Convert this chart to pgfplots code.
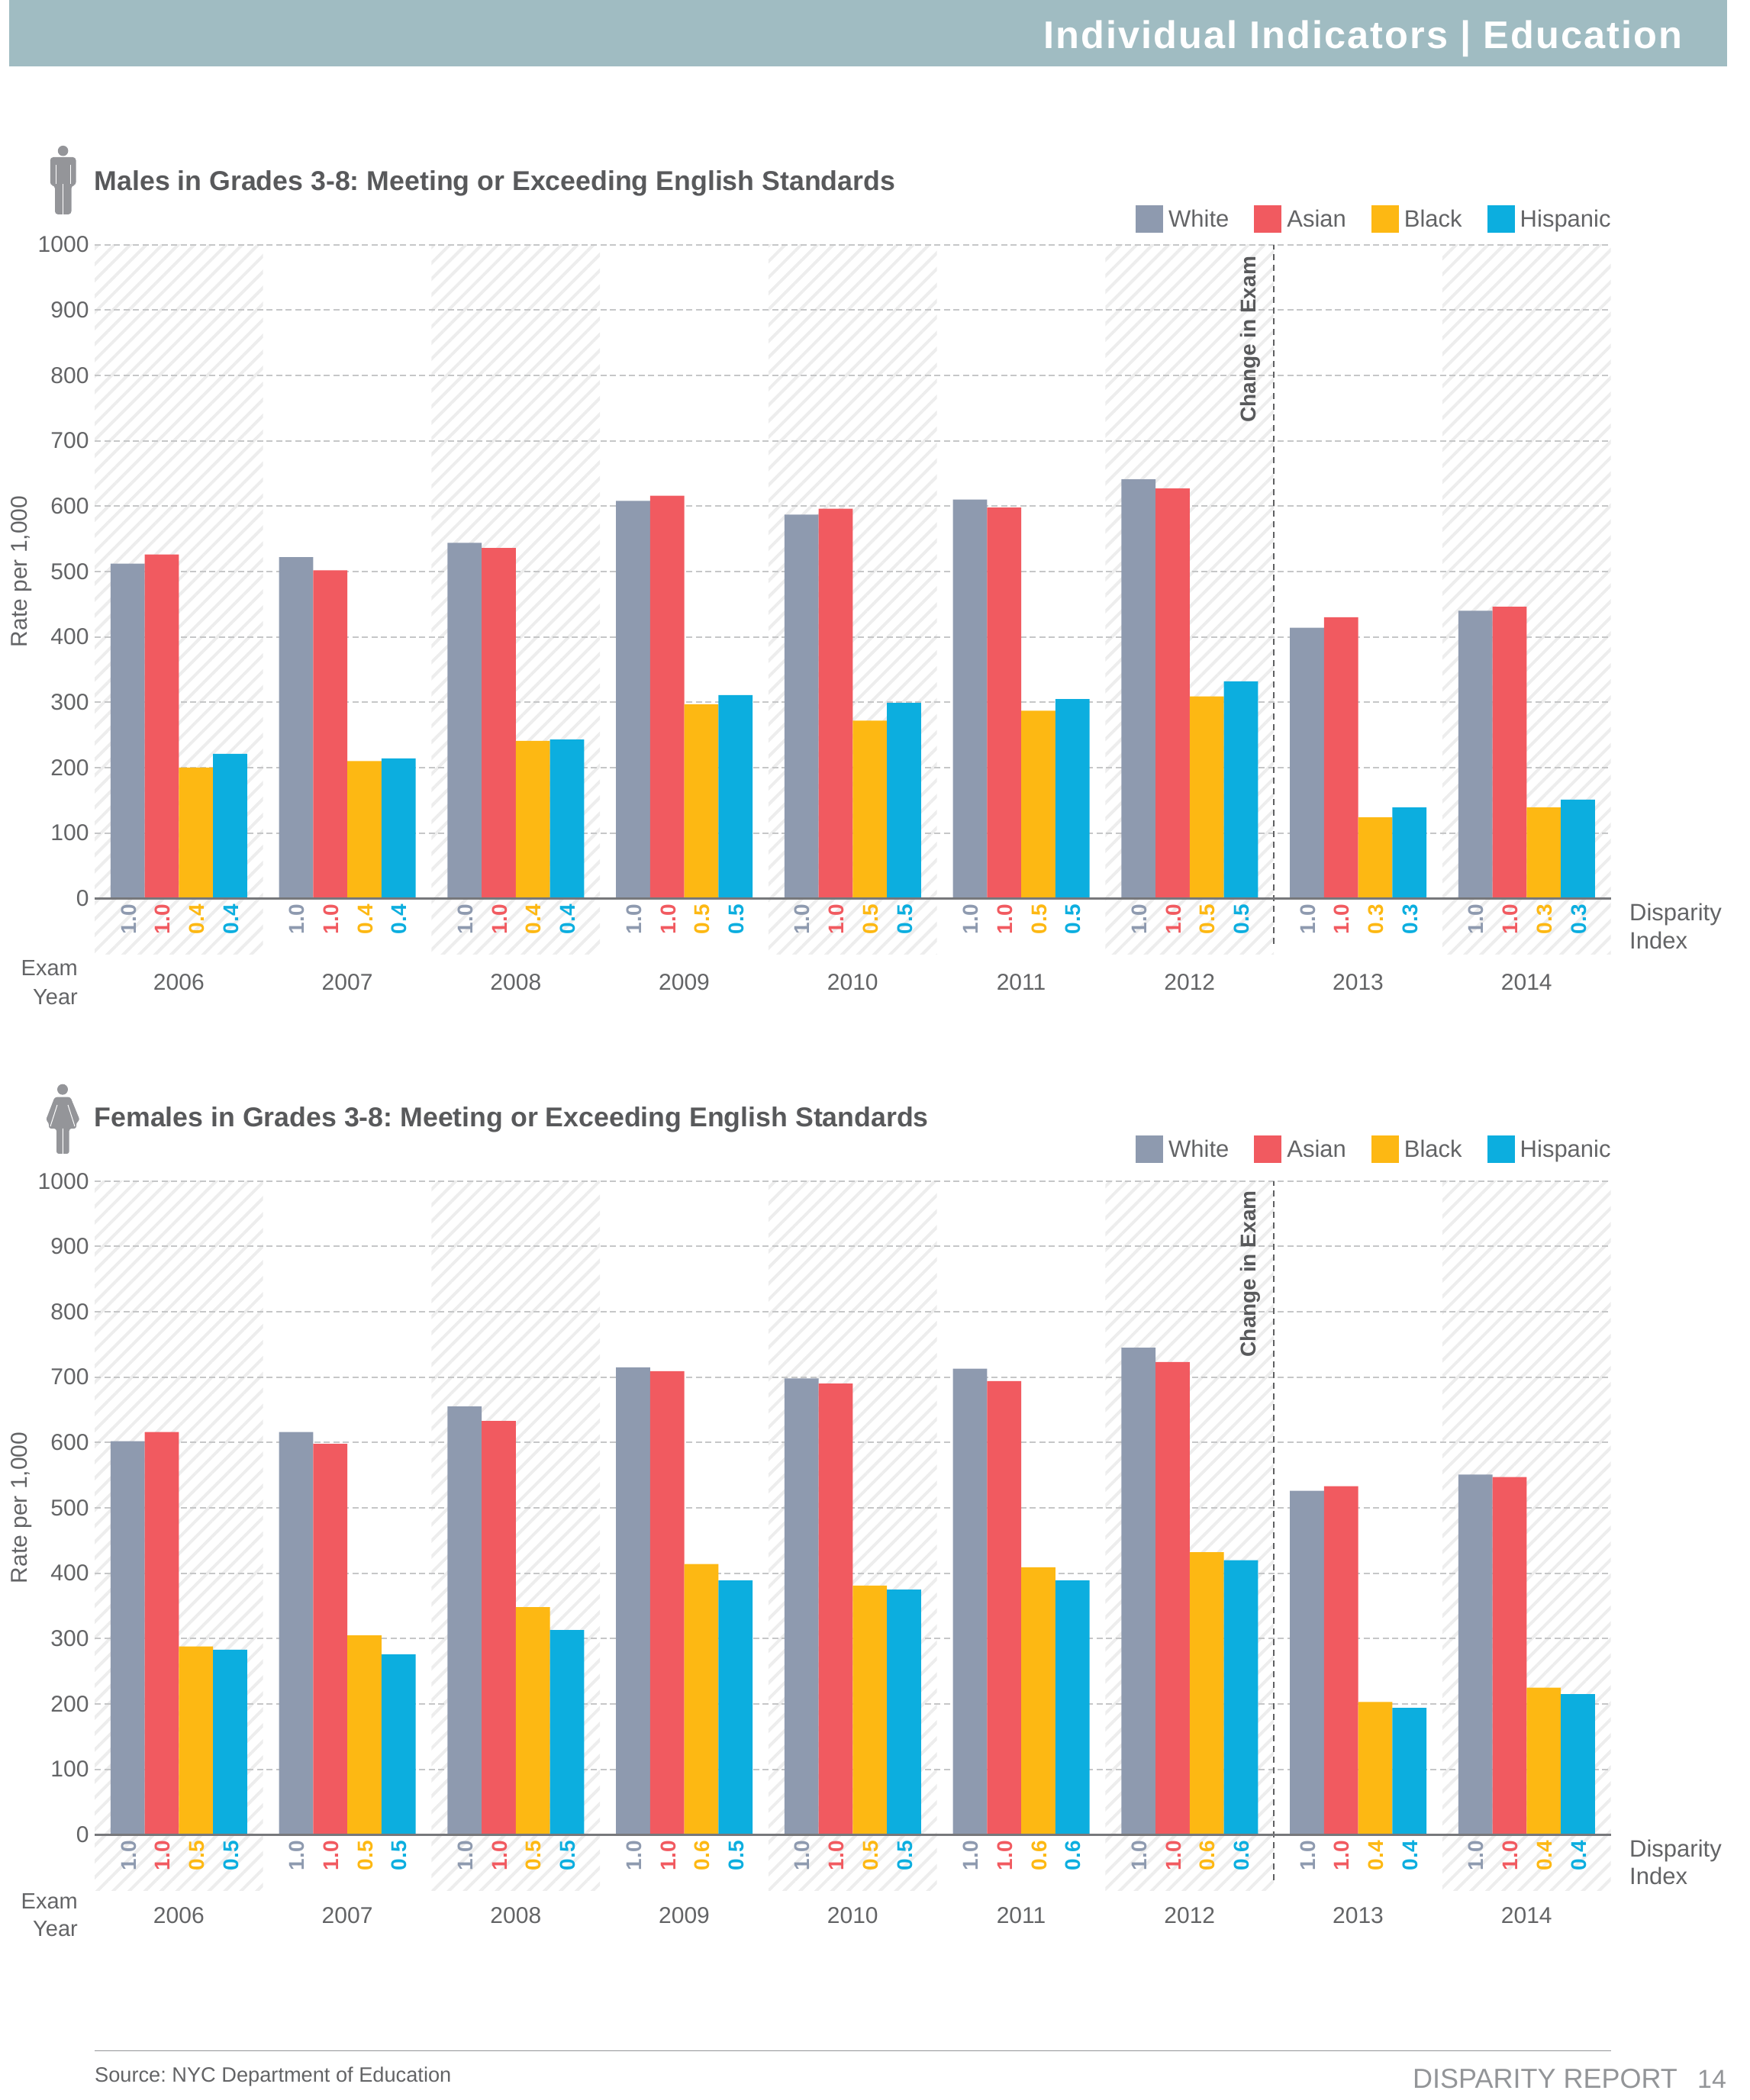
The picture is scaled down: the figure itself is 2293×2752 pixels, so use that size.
\documentclass[border=0pt]{standalone}
\usepackage{fontspec}
\setmainfont{Liberation Sans}
\newfontfamily\headfont[LetterSpace=4]{Liberation Sans}
\usepackage{pgfplots}
\usepackage{pgfplotstable}
\pgfplotsset{compat=1.18}
\usetikzlibrary{patterns.meta}
\frenchspacing

\definecolor{cWhite}{HTML}{8E9AAF}
\definecolor{cAsian}{HTML}{F15A60}
\definecolor{cBlack}{HTML}{FDB813}
\definecolor{cHisp}{HTML}{0CAEDF}
\definecolor{headbar}{HTML}{A0BCC2}
\definecolor{stripe}{HTML}{EDEDED}
\definecolor{gridc}{HTML}{C6C7C8}
\definecolor{axisc}{HTML}{77787B}
\definecolor{txt}{HTML}{636466}
\definecolor{titlec}{HTML}{58595B}
\definecolor{icon}{HTML}{949599}
\definecolor{foot}{HTML}{939598}

\newcommand{\fs}[1]{\fontsize{#1}{#1}\selectfont}

\pgfplotstableread{
x W A B H dW dA dB dH
0 512 526 200 221 1.0 1.0 0.4 0.4
1 522 502 210 214 1.0 1.0 0.4 0.4
2 544 536 241 243 1.0 1.0 0.4 0.4
3 608 616 297 311 1.0 1.0 0.5 0.5
4 587 596 272 299 1.0 1.0 0.5 0.5
5 610 598 287 305 1.0 1.0 0.5 0.5
6 641 627 309 332 1.0 1.0 0.5 0.5
7 414 430 124 139 1.0 1.0 0.3 0.3
8 440 446 139 151 1.0 1.0 0.3 0.3
}\tblmale

\pgfplotstableread{
x W A B H dW dA dB dH
0 602 616 288 283 1.0 1.0 0.5 0.5
1 616 598 305 276 1.0 1.0 0.5 0.5
2 655 633 348 313 1.0 1.0 0.5 0.5
3 715 709 414 389 1.0 1.0 0.6 0.5
4 698 690 381 375 1.0 1.0 0.5 0.5
5 713 694 409 389 1.0 1.0 0.6 0.6
6 745 723 432 420 1.0 1.0 0.6 0.6
7 526 533 203 194 1.0 1.0 0.4 0.4
8 551 547 225 215 1.0 1.0 0.4 0.4
}\tblfemale

% one hatched column behind a year
\newcommand{\band}[1]{%
  \addplot[on layer=axis background,forget plot,draw=none,
    pattern={Lines[angle=45,distance=14.8pt,line width=4pt]},pattern color=stripe]
    coordinates {(#1-0.5,-85) (#1+0.5,-85) (#1+0.5,1000) (#1-0.5,1000)} -- cycle;
}
% bars of one group
\newcommand{\bars}[4]{%
  \addplot[ybar,bar width=44.75pt,bar shift=#2pt,fill=#3,draw=none]
    table[x=x,y=#1]{#4};
}
% rotated disparity index under the bars
\newcommand{\dispar}[4]{%
  \addplot[forget plot,draw=none,mark=none,only marks,
    nodes near coords,point meta=explicit symbolic,
    every node near coord/.style={rotate=90,anchor=center,inner sep=0pt,text=#3,
      font=\fs{28}\bfseries}]
    table[x expr=\thisrow{x}+#2,y expr=-32,meta=#1]{#4};
}

\pgfplotsset{
  chart/.style={
    scale only axis,width=1986.7pt,height=856.6pt,
    xmin=-0.5,xmax=8.5,ymin=0,ymax=1000,
    clip=false,set layers,
    axis x line=bottom,axis y line=left,axis line style={draw=none,-},
    major tick length=0pt,
    xtick={0,...,8},xticklabels={2006,2007,2008,2009,2010,2011,2012,2013,2014},
    ytick={0,100,...,1000},
    ymajorgrids,
    major grid style={gridc,line width=2pt,dash pattern=on 8pt off 4.5pt},
    /pgf/number format/assume math mode=true,
    /pgf/number format/1000 sep={},
    y tick label style={font=\fs{30},text=txt,xshift=-4pt},
    every axis y label/.style={at={(axis description cs:-0.048,0.5)},rotate=90,anchor=center,
      font=\fs{30},text=txt},
    ylabel={Rate per 1,000},
    legend cell align=left,
    legend image code/.code={\fill[##1] (0pt,-18pt) rectangle (36pt,18pt);},
    legend style={at={(axis description cs:1,1)},anchor=south east,xshift=2pt,
      draw=none,fill=none,inner sep=0pt,outer sep=0pt,font=\fs{31},text=txt,
      legend columns=4,
      /tikz/every odd column/.append style={column sep=5pt},
      /tikz/every even column/.append style={column sep=31pt}},
  },
}

% table, axis bottom, legend lift, height of the exam note, year label shift
\newcommand{\chart}[5]{%
  \begin{axis}[chart,at={(124pt,#2pt)},anchor=south west,
      x tick label style={font=\fs{30},text=txt,yshift=#5pt},
      legend style={yshift=#3pt}]
    \band{0}\band{2}\band{4}\band{6}\band{8}
    \bars{W}{-67.125}{cWhite}{#1}
    \bars{A}{-22.375}{cAsian}{#1}
    \bars{B}{22.375}{cBlack}{#1}
    \bars{H}{67.125}{cHisp}{#1}
    \legend{White,Asian,Black,Hispanic}
    \addplot[on layer=axis foreground,forget plot,draw=axisc,line width=3pt]
      coordinates {(-0.5,0) (8.5,0)};
    \addplot[forget plot,draw=axisc!80!black,line width=1.5pt,dash pattern=on 8pt off 6pt]
      coordinates {(6.5,-70) (6.5,1000)};
    \dispar{dW}{-0.299}{cWhite}{#1}
    \dispar{dA}{-0.096}{cAsian}{#1}
    \dispar{dB}{0.106}{cBlack}{#1}
    \dispar{dH}{0.309}{cHisp}{#1}
    \node[rotate=90,anchor=center,inner sep=0pt,font=\fs{28}\bfseries,text=titlec]
      at (axis cs:6.36,#4) {Change in Exam};
  \end{axis}
}

\begin{document}
\begin{tikzpicture}[x=1pt,y=1pt]
  \path (0,0) rectangle (2293,2752);
  \fill[headbar] (12,2752) rectangle (2262.6,2665);
  \node[anchor=base east,inner sep=0pt,text=white,font=\fs{50.5}\headfont\bfseries]
    at (2204,2688) {Individual Indicators | Education};

  % male icon
  \begin{scope}[shift={(0,2752)},y=-1pt]
    \fill[icon] (82.6,197.7) circle (6.8);
    \fill[icon,rounded corners=4pt] (65.8,243) -- (65.8,206) -- (99.5,206) -- (99.5,243) -- (93.5,243)
      -- (93.5,281) -- (72,281) -- (72,243) -- cycle;
    \draw[white,line width=1pt] (73,216) -- (73,241) (92.3,216) -- (92.3,241) (82.6,241) -- (82.6,281);
  \end{scope}
  % female icon
  \begin{scope}[shift={(0,2752)},y=-1pt]
    \fill[icon] (82,1427.7) circle (7);
    \fill[icon,rounded corners=3pt] (71.7,1437.7) -- (92.3,1437.7) -- (104.7,1468) -- (100,1471)
      -- (100,1479) -- (90.7,1479) -- (90.7,1512) -- (74,1512) -- (74,1479) -- (64,1479) -- (64,1471) -- (60,1468) -- cycle;
    \draw[white,line width=1pt] (75,1448) -- (66,1476) (89,1448) -- (98,1476) (82.3,1479) -- (82.3,1512);
  \end{scope}

  \node[anchor=base west,inner sep=0pt,font=\fs{35.7},text=titlec] at (123.5,{2752-250})
    {\bfseries Males in Grades 3-8: Meeting or Exceeding English Standards};
  \node[anchor=base west,inner sep=0pt,font=\fs{35.7},text=titlec] at (123.5,{2752-1477})
    {\bfseries Females in Grades 3-8: Meeting or Exceeding English Standards};

  \chart{\tblmale}{1574.7}{16}{855}{-96}
  \chart{\tblfemale}{347.7}{24}{858}{-92}

  % side captions, first chart
  \node[anchor=east,inner sep=0pt,font=\fs{29},text=txt] at (102,{2752-1269}) {Exam};
  \node[anchor=east,inner sep=0pt,font=\fs{29},text=txt] at (102,{2752-1307}) {Year};
  \node[anchor=west,inner sep=0pt,font=\fs{31},text=txt] at (2135,{2752-1199}) {Disparity};
  \node[anchor=west,inner sep=0pt,font=\fs{31},text=txt] at (2135,{2752-1232}) {Index};
  % second chart
  \node[anchor=east,inner sep=0pt,font=\fs{29},text=txt] at (102,{2752-2491.7}) {Exam};
  \node[anchor=east,inner sep=0pt,font=\fs{29},text=txt] at (102,{2752-2528}) {Year};
  \node[anchor=west,inner sep=0pt,font=\fs{31},text=txt] at (2135,{2752-2425}) {Disparity};
  \node[anchor=west,inner sep=0pt,font=\fs{31},text=txt] at (2135,{2752-2458}) {Index};

  % footer
  \draw[foot,line width=1.5pt] (124,{2752-2687.3}) -- (2110.7,{2752-2687.3});
  \node[anchor=base west,inner sep=0pt,font=\fs{27.2},text=txt] at (124,{2752-2728.7}) {Source: NYC Department of Education};
  \node[anchor=base west,inner sep=0pt,font=\fs{36},text=foot] at (1851,{2752-2737}) {DISPARITY REPORT};
  \node[anchor=base west,inner sep=0pt,font=\fs{34},text=foot] at (2224,{2752-2737}) {14};
\end{tikzpicture}
\end{document}
